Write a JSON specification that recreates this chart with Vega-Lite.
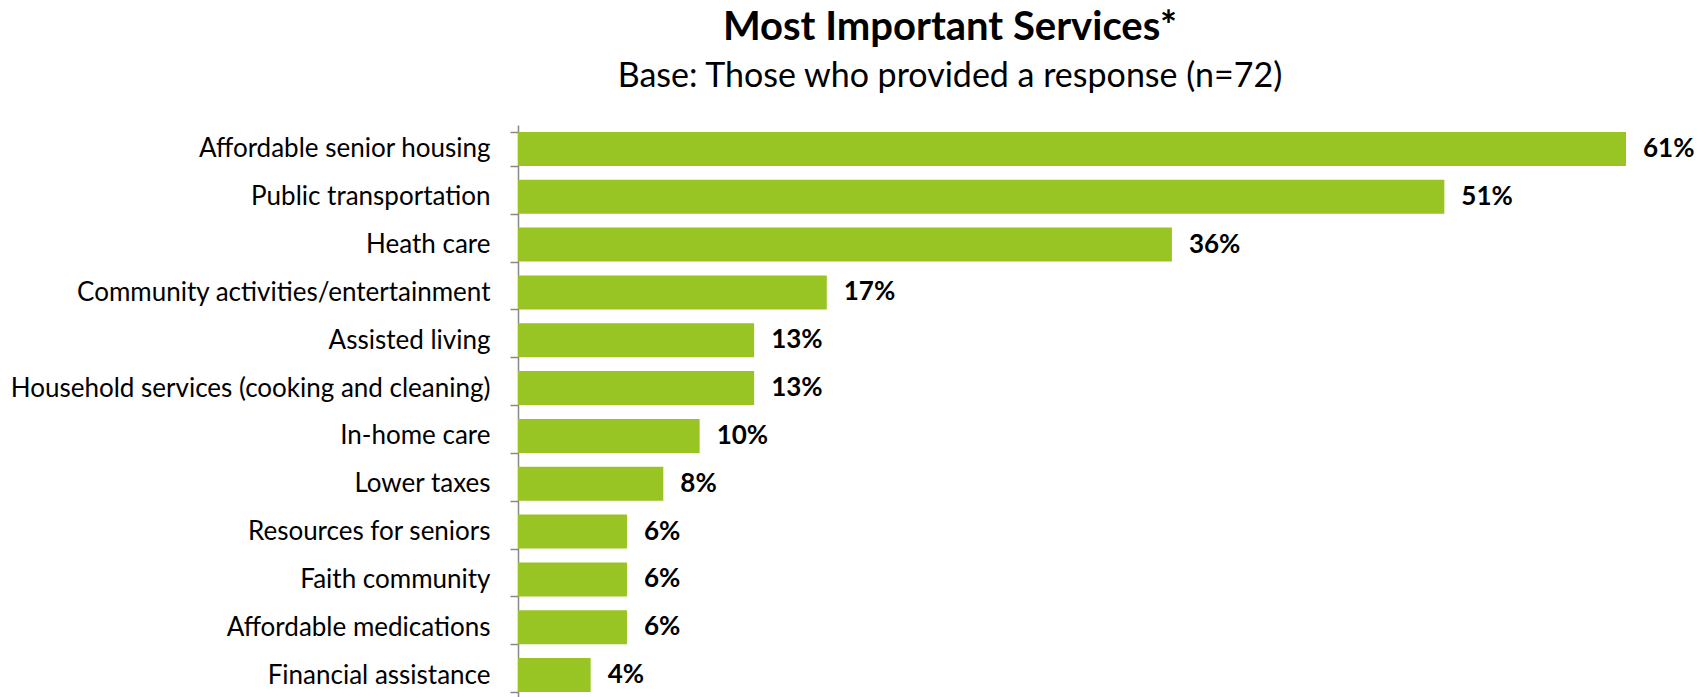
{
  "$schema": "https://vega.github.io/schema/vega-lite/v6.json",
  "autosize": {"type": "none"},
  "padding": {"left": 518, "top": 125, "right": 81, "bottom": 0},
  "width": 1108,
  "height": 574,
  "background": "white",
  "title": {
    "text": "Most Important Services*",
    "subtitle": "Base: Those who provided a response (n=72)",
    "anchor": "middle",
    "dx": -122,
    "offset": 18,
    "font": "Lato",
    "fontSize": 40,
    "fontWeight": "bold",
    "color": "black",
    "subtitleFont": "Lato",
    "subtitleFontSize": 34,
    "subtitleColor": "black",
    "subtitlePadding": 12
  },
  "data": {
    "values": [
      {"service": "Affordable senior housing", "pct": 0.61},
      {"service": "Public transportation", "pct": 0.51},
      {"service": "Heath care", "pct": 0.36},
      {"service": "Community activities/entertainment", "pct": 0.17},
      {"service": "Assisted living", "pct": 0.13},
      {"service": "Household services (cooking and cleaning)", "pct": 0.13},
      {"service": "In-home care", "pct": 0.10},
      {"service": "Lower taxes", "pct": 0.08},
      {"service": "Resources for seniors", "pct": 0.06},
      {"service": "Faith community", "pct": 0.06},
      {"service": "Affordable medications", "pct": 0.06},
      {"service": "Financial assistance", "pct": 0.04}
    ]
  },
  "encoding": {
    "y": {
      "field": "service",
      "type": "nominal",
      "sort": null,
      "scale": {"paddingInner": 0.29, "paddingOuter": 0.145},
      "axis": {
        "title": null,
        "tickBand": "extent",
        "tickSize": 8,
        "tickColor": "#888888",
        "domainColor": "#888888",
        "domainWidth": 1.5,
        "tickWidth": 1.5,
        "labelFont": "Lato",
        "labelFontSize": 26,
        "labelColor": "black",
        "labelPadding": 20,
        "labelLimit": 600
      }
    },
    "x": {
      "field": "pct",
      "type": "quantitative",
      "scale": {"domain": [0, 0.61], "nice": false},
      "axis": null
    }
  },
  "layer": [
    {"mark": {"type": "bar", "color": "#99c524"}},
    {
      "mark": {"type": "text", "align": "left", "baseline": "middle", "dx": 17, "font": "Lato", "fontSize": 26, "fontWeight": "bold", "color": "black"},
      "encoding": {"text": {"field": "pct", "type": "quantitative", "format": ".0%"}}
    }
  ],
  "config": {"view": {"stroke": null}}
}
